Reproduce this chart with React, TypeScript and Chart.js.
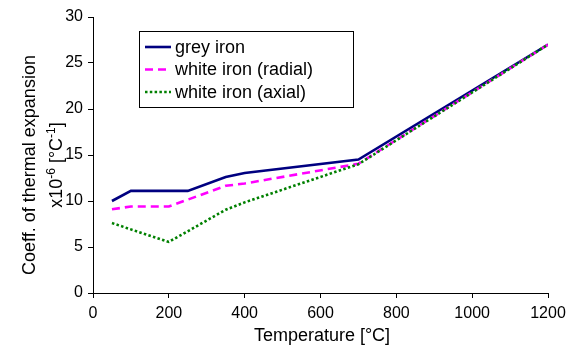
import React, { useEffect, useRef } from "react";
import { Chart, registerables } from "chart.js";

Chart.register(...registerables);

const greyIron = [
  { x: 50, y: 10 },
  { x: 100, y: 11.1 },
  { x: 250, y: 11.1 },
  { x: 350, y: 12.6 },
  { x: 400, y: 13.05 },
  { x: 700, y: 14.5 },
  { x: 1200, y: 27 },
];
const whiteRadial = [
  { x: 50, y: 9.1 },
  { x: 100, y: 9.4 },
  { x: 200, y: 9.4 },
  { x: 350, y: 11.65 },
  { x: 400, y: 11.9 },
  { x: 700, y: 14.05 },
  { x: 1200, y: 27 },
];
const whiteAxial = [
  { x: 50, y: 7.6 },
  { x: 200, y: 5.55 },
  { x: 350, y: 9.05 },
  { x: 400, y: 9.85 },
  { x: 700, y: 14.0 },
  { x: 1200, y: 27 },
];
const seriesNames = ["grey iron", "white iron (radial)", "white iron (axial)"];
const xTitle = "Temperature [°C]";
const yTitleLine1 = "Coeff. of thermal expansion";
const yTitleLine2 = [
  { t: "x10", sup: false },
  { t: "-6", sup: true },
  { t: " [°C", sup: false },
  { t: "-1", sup: true },
  { t: "]", sup: false },
];

const FONT = "'Liberation Sans', Arial, sans-serif";

const overlayPlugin = {
  id: "overlay",
  afterDraw(chart: any) {
    const ctx = chart.ctx as CanvasRenderingContext2D;
    ctx.save();
    ctx.fillStyle = "#000";
    ctx.font = `18px ${FONT}`;
    ctx.textAlign = "center";
    ctx.textBaseline = "alphabetic";
    ctx.fillText(xTitle, 322, 341);

    ctx.save();
    ctx.rotate(-Math.PI / 2);
    ctx.font = `18px ${FONT}`;
    ctx.textAlign = "center";
    ctx.fillText(yTitleLine1, -165, 35);
    const big = `18px ${FONT}`;
    const small = `12px ${FONT}`;
    let total = 0;
    for (const s of yTitleLine2) {
      ctx.font = s.sup ? small : big;
      total += ctx.measureText(s.t).width;
    }
    let cx = -165 - total / 2;
    ctx.textAlign = "left";
    for (const s of yTitleLine2) {
      ctx.font = s.sup ? small : big;
      ctx.fillText(s.t, cx, s.sup ? 62 - 7 : 62);
      cx += ctx.measureText(s.t).width;
    }
    ctx.restore();

    const bx = 139.5, by = 31.5, bw = 214, bh = 76;
    ctx.fillStyle = "#fff";
    ctx.fillRect(bx, by, bw, bh);
    ctx.strokeStyle = "#000";
    ctx.lineWidth = 1;
    ctx.strokeRect(bx, by, bw, bh);
    const rows = [47, 69.5, 92];
    chart.data.datasets.forEach((ds: any, i: number) => {
      const y = rows[i];
      ctx.beginPath();
      ctx.strokeStyle = ds.borderColor;
      ctx.lineWidth = ds.borderWidth;
      ctx.setLineDash(ds.borderDash || []);
      ctx.moveTo(145, y);
      ctx.lineTo(171, y);
      ctx.stroke();
      ctx.setLineDash([]);
      ctx.fillStyle = "#000";
      ctx.font = `18px ${FONT}`;
      ctx.textAlign = "left";
      ctx.textBaseline = "middle";
      ctx.fillText(ds.label, 175, y + 1);
    });
    ctx.restore();
  },
};

export default function App() {
  const ref = useRef<HTMLCanvasElement>(null);
  useEffect(() => {
    const chart = new Chart(ref.current!, {
      type: "line",
      data: {
        datasets: [
          {
            label: seriesNames[0],
            data: greyIron,
            borderColor: "#000080",
            borderWidth: 2.6,
            pointRadius: 0,
            tension: 0,
            order: 2,
          },
          {
            label: seriesNames[1],
            data: whiteRadial,
            borderColor: "#FF00FF",
            borderWidth: 2.6,
            borderDash: [8, 5],
            borderCapStyle: "butt",
            pointRadius: 0,
            tension: 0,
            order: 1,
          },
          {
            label: seriesNames[2],
            data: whiteAxial,
            borderColor: "#008000",
            borderWidth: 2.6,
            borderDash: [2.5, 2.3],
            borderCapStyle: "butt",
            pointRadius: 0,
            tension: 0,
            order: 0,
          },
        ],
      },
      options: {
        animation: false,
        responsive: false,
        devicePixelRatio: 1,
        layout: { padding: { top: 17, right: 21, left: 0, bottom: 0 } },
        plugins: { legend: { display: false }, tooltip: { enabled: false } },
        scales: {
          x: {
            type: "linear",
            min: 0,
            max: 1200,
            afterFit: (s: any) => {
              s.height = 54;
              s.paddingRight = 0;
            },
            ticks: {
              stepSize: 200,
              color: "#000",
              font: { family: FONT, size: 16 },
              padding: 6,
              maxRotation: 0,
              callback: (v: any) => String(v),
            },
            grid: {
              drawOnChartArea: false,
              drawTicks: true,
              tickLength: 5,
              color: "#000",
            },
            border: { display: true, color: "#000", width: 1 },
          },
          y: {
            type: "linear",
            min: 0,
            max: 30,
            afterFit: (s: any) => {
              s.width = 93;
            },
            ticks: {
              stepSize: 5,
              color: "#000",
              font: { family: FONT, size: 16 },
              padding: 5,
              callback: (v: any) => String(v),
            },
            grid: {
              drawOnChartArea: false,
              drawTicks: true,
              tickLength: 5,
              color: "#000",
            },
            border: { display: true, color: "#000", width: 1 },
          },
        },
      },
      plugins: [overlayPlugin],
    });
    return () => chart.destroy();
  }, []);
  return (
    <div style={{ position: "fixed", left: 0, top: 0, width: 569, height: 347, background: "#fff" }}>
      <canvas ref={ref} width={569} height={347} style={{ width: 569, height: 347 }} />
    </div>
  );
}
